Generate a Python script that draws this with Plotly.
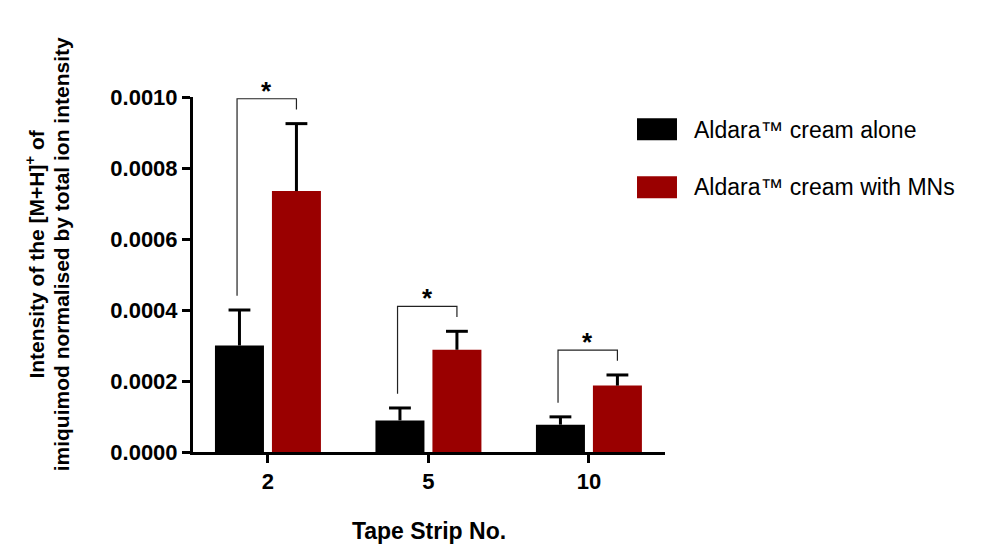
import plotly.graph_objects as go

# ---- data ----
categories = ["2", "5", "10"]
alone = [0.000300, 0.000089, 0.000077]
alone_err = [0.000100, 0.000035, 0.000022]
mns = [0.000735, 0.000288, 0.000187]
mns_err = [0.000190, 0.000052, 0.000030]
series_names = ["Aldara\u2122 cream alone", "Aldara\u2122 cream with MNs"]
y_ticks = [0.0, 0.0002, 0.0004, 0.0006, 0.0008, 0.0010]

BLACK = "#000000"
RED = "#9a0000"
FONT = "Liberation Sans, Arial, sans-serif"

BARGAP = 0.29
BARGROUPGAP = 0.14
slot = (1 - BARGAP) / 2
off = slot / 2
cap = 0.068

xs = list(range(len(categories)))

fig = go.Figure()
fig.add_trace(go.Bar(x=xs, y=alone, marker=dict(color=BLACK, line=dict(width=0)),
                     name=series_names[0], showlegend=False))
fig.add_trace(go.Bar(x=xs, y=mns, marker=dict(color=RED, line=dict(width=0)),
                     name=series_names[1], showlegend=False))

# error bars (upper only), black
ex, ey = [], []
for vals, errs, o in [(alone, alone_err, -off), (mns, mns_err, off)]:
    for i, (v, e) in enumerate(zip(vals, errs)):
        xc = xs[i] + o
        ex += [xc, xc, None, xc - cap, xc + cap, None]
        ey += [v, v + e, None, v + e, v + e, None]
fig.add_trace(go.Scatter(x=ex, y=ey, mode="lines", line=dict(color=BLACK, width=3),
                         showlegend=False, hoverinfo="skip", cliponaxis=False))

# significance brackets
gap_l, gap_t, gap_r = 0.00004, 0.00007, 0.00004
bx, by = [], []
for i in xs:
    lt = alone[i] + alone_err[i]
    rt = mns[i] + mns_err[i]
    top = rt + gap_t
    xl = i - off - 0.015
    xr = i + off
    bx += [xl, xl, xr, xr, None]
    by += [lt + gap_l, top, top, rt + gap_r, None]
    fig.add_annotation(x=(xl + xr) / 2, y=top, text="<b>*</b>", showarrow=False,
                       yanchor="bottom", yshift=-9,
                       font=dict(family=FONT, size=26, color=BLACK))
fig.add_trace(go.Scatter(x=bx, y=by, mode="lines", line=dict(color="#222222", width=1.2),
                         showlegend=False, hoverinfo="skip", cliponaxis=False))

# custom legend
legend_rows = [(0.940, 0.878, 0.906, BLACK), (0.7766, 0.7146, 0.7456, RED)]
for (y1, y0, yc, col), name in zip(legend_rows, series_names):
    fig.add_shape(type="rect", xref="paper", yref="paper", x0=0.9407, x1=1.0254,
                  y0=y0, y1=y1, fillcolor=col, line=dict(width=0))
    fig.add_annotation(xref="paper", yref="paper", x=1.057, y=yc, text=name,
                       showarrow=False, xanchor="left", yanchor="middle",
                       font=dict(family=FONT, size=23, color=BLACK))

# y-axis title as two rotated lines
ytitle = ["<b>Intensity of the [M+H]<sup>+</sup> of</b>",
          "<b>imiquimod normalised by total ion intensity</b>"]
for xp, t in zip([-0.334, -0.2795], ytitle):
    fig.add_annotation(xref="paper", yref="paper", x=xp, y=0.557, text=t,
                       textangle=-90, showarrow=False, xanchor="center", yanchor="middle",
                       font=dict(family=FONT, size=21, color=BLACK))

fig.update_layout(
    width=986, height=548,
    margin=dict(l=193, r=321, t=97, b=96, autoexpand=False),
    paper_bgcolor="white", plot_bgcolor="white",
    barmode="group", bargap=BARGAP, bargroupgap=BARGROUPGAP,
    font=dict(family=FONT, color=BLACK),
    showlegend=False,
)
fig.update_xaxes(
    range=[-0.467, 2.474], tickvals=xs, ticktext=["<b>%s</b>" % c for c in categories],
    showline=True, linecolor=BLACK, linewidth=3, ticks="outside", ticklen=8,
    tickwidth=2.5, tickcolor=BLACK, showgrid=False, zeroline=False, automargin=False,
    tickfont=dict(family=FONT, size=22, color=BLACK),
    title=dict(text="<b>Tape Strip No.</b>", standoff=30,
               font=dict(family=FONT, size=23, color=BLACK)),
)
fig.update_yaxes(
    range=[0, 0.0010], tickvals=y_ticks, tickformat=".4f",
    ticktext=["<b>%.4f</b>" % v for v in y_ticks],
    showline=True, linecolor=BLACK, linewidth=3, ticks="outside", ticklen=8,
    tickwidth=2.5, tickcolor=BLACK, showgrid=False, zeroline=False, automargin=False,
    tickfont=dict(family=FONT, size=22, color=BLACK),
)

fig.write_html("out.html")
